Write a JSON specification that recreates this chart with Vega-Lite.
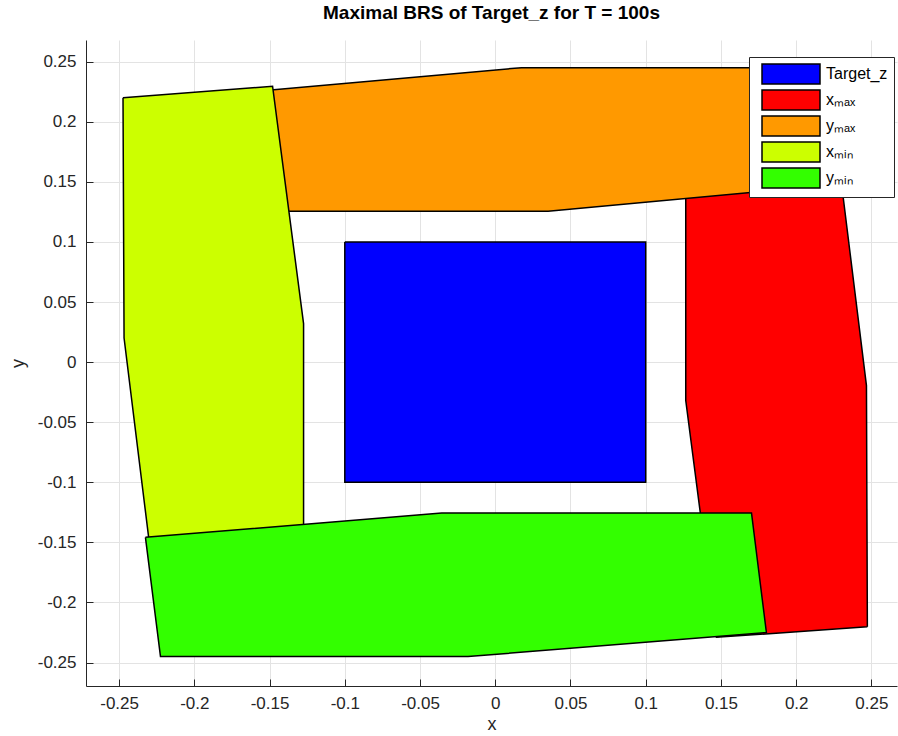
{
  "$schema": "https://vega.github.io/schema/vega-lite/v6.json",
  "autosize": {"type": "none"},
  "padding": {"left": 86, "top": 40, "right": 1, "bottom": 50},
  "width": 811,
  "height": 646,
  "title": {
    "text": "Maximal BRS of Target_z for T = 100s",
    "font": "Liberation Sans",
    "fontSize": 19,
    "fontWeight": "bold",
    "color": "#000000",
    "anchor": "middle",
    "offset": 17
  },
  "data": {
    "values": [
      {"region": "Target_z", "ord": 1, "x": -0.1, "y": 0.1},
      {"region": "Target_z", "ord": 2, "x": 0.1, "y": 0.1},
      {"region": "Target_z", "ord": 3, "x": 0.1, "y": -0.1},
      {"region": "Target_z", "ord": 4, "x": -0.1, "y": -0.1},
      {"region": "Target_z", "ord": 5, "x": -0.1, "y": 0.1},

      {"region": "xₘₐₓ", "ord": 1, "x": 0.2473, "y": -0.2203},
      {"region": "xₘₐₓ", "ord": 2, "x": 0.147, "y": -0.229},
      {"region": "xₘₐₓ", "ord": 3, "x": 0.1266, "y": -0.032},
      {"region": "xₘₐₓ", "ord": 4, "x": 0.1266, "y": 0.172},
      {"region": "xₘₐₓ", "ord": 5, "x": 0.227, "y": 0.18},
      {"region": "xₘₐₓ", "ord": 6, "x": 0.2467, "y": -0.0195},
      {"region": "xₘₐₓ", "ord": 7, "x": 0.2473, "y": -0.2203},

      {"region": "yₘₐₓ", "ord": 1, "x": 0.22, "y": 0.245},
      {"region": "yₘₐₓ", "ord": 2, "x": 0.2295, "y": 0.148},
      {"region": "yₘₐₓ", "ord": 3, "x": 0.0351, "y": 0.1256},
      {"region": "yₘₐₓ", "ord": 4, "x": -0.172, "y": 0.1256},
      {"region": "yₘₐₓ", "ord": 5, "x": -0.18, "y": 0.223},
      {"region": "yₘₐₓ", "ord": 6, "x": 0.0174, "y": 0.245},
      {"region": "yₘₐₓ", "ord": 7, "x": 0.22, "y": 0.245},

      {"region": "xₘᵢₙ", "ord": 1, "x": -0.2474, "y": 0.22},
      {"region": "xₘᵢₙ", "ord": 2, "x": -0.148, "y": 0.2295},
      {"region": "xₘᵢₙ", "ord": 3, "x": -0.1274, "y": 0.032},
      {"region": "xₘᵢₙ", "ord": 4, "x": -0.1274, "y": -0.172},
      {"region": "xₘᵢₙ", "ord": 5, "x": -0.227, "y": -0.18},
      {"region": "xₘᵢₙ", "ord": 6, "x": -0.2467, "y": 0.02},
      {"region": "xₘᵢₙ", "ord": 7, "x": -0.2474, "y": 0.22},

      {"region": "yₘᵢₙ", "ord": 1, "x": -0.2325, "y": -0.1458},
      {"region": "yₘᵢₙ", "ord": 2, "x": -0.2225, "y": -0.245},
      {"region": "yₘᵢₙ", "ord": 3, "x": -0.0181, "y": -0.245},
      {"region": "yₘᵢₙ", "ord": 4, "x": 0.1802, "y": -0.225},
      {"region": "yₘᵢₙ", "ord": 5, "x": 0.1703, "y": -0.1255},
      {"region": "yₘᵢₙ", "ord": 6, "x": -0.0356, "y": -0.1255},
      {"region": "yₘᵢₙ", "ord": 7, "x": -0.2325, "y": -0.1458}
    ]
  },
  "encoding": {
    "x": {
      "field": "x", "type": "quantitative",
      "scale": {"domain": [-0.272, 0.267], "nice": false, "zero": false},
      "axis": {
        "title": "x",
        "values": [-0.25, -0.2, -0.15, -0.1, -0.05, 0, 0.05, 0.1, 0.15, 0.2, 0.25],
        "labelExpr": "replace(format(datum.value, '.2~f'), '−', '-')",
        "tickSize": -7,
        "labelPadding": 16,
        "titlePadding": 4
      }
    },
    "y": {
      "field": "y", "type": "quantitative",
      "scale": {"domain": [-0.2695, 0.268], "nice": false, "zero": false},
      "axis": {
        "title": "y",
        "values": [-0.25, -0.2, -0.15, -0.1, -0.05, 0, 0.05, 0.1, 0.15, 0.2, 0.25],
        "labelExpr": "replace(format(datum.value, '.2~f'), '−', '-')",
        "tickSize": -7,
        "labelPadding": 17,
        "titlePadding": 10
      }
    },
    "order": {"field": "ord", "type": "quantitative"},
    "color": {
      "field": "region", "type": "nominal",
      "scale": {
        "domain": ["Target_z", "xₘₐₓ", "yₘₐₓ", "xₘᵢₙ", "yₘᵢₙ"],
        "range": ["#0000FF", "#FF0000", "#FF9900", "#CCFF00", "#33FF00"]
      },
      "legend": {
        "title": null,
        "orient": "none",
        "legendX": 663,
        "legendY": 17,
        "symbolType": "M-2.9,-1H2.9V1H-2.9Z",
        "symbolSize": 400,
        "symbolOffset": 25,
        "symbolStrokeColor": "#000000",
        "symbolStrokeWidth": 1.5,
        "symbolOpacity": 1,
        "labelFont": "Liberation Sans",
        "labelFontSize": 16,
        "labelColor": "#000000",
        "rowPadding": 0,
        "padding": 6,
        "fillColor": "#FFFFFF",
        "strokeColor": "#262626",
        "labelOffset": 24
      }
    }
  },
  "layer": [
    {"transform": [{"filter": "datum.region === 'Target_z'"}], "mark": {"type": "line", "filled": true, "stroke": "#000000", "strokeWidth": 1.5, "strokeJoin": "miter"}},
    {"transform": [{"filter": "datum.region === 'xₘₐₓ'"}], "mark": {"type": "line", "filled": true, "stroke": "#000000", "strokeWidth": 1.5, "strokeJoin": "miter"}},
    {"transform": [{"filter": "datum.region === 'yₘₐₓ'"}], "mark": {"type": "line", "filled": true, "stroke": "#000000", "strokeWidth": 1.5, "strokeJoin": "miter"}},
    {"transform": [{"filter": "datum.region === 'xₘᵢₙ'"}], "mark": {"type": "line", "filled": true, "stroke": "#000000", "strokeWidth": 1.5, "strokeJoin": "miter"}},
    {"transform": [{"filter": "datum.region === 'yₘᵢₙ'"}], "mark": {"type": "line", "filled": true, "stroke": "#000000", "strokeWidth": 1.5, "strokeJoin": "miter"}}
  ],
  "config": {
    "view": {"stroke": null},
    "axis": {
      "labelFont": "Liberation Sans",
      "labelFontSize": 17,
      "labelColor": "#262626",
      "titleFont": "Liberation Sans",
      "titleFontSize": 18,
      "titleFontWeight": "normal",
      "titleColor": "#262626",
      "domainColor": "#262626",
      "tickColor": "#262626",
      "gridColor": "#E3E3E3",
      "grid": true,
      "labelFlush": false
    }
  }
}
